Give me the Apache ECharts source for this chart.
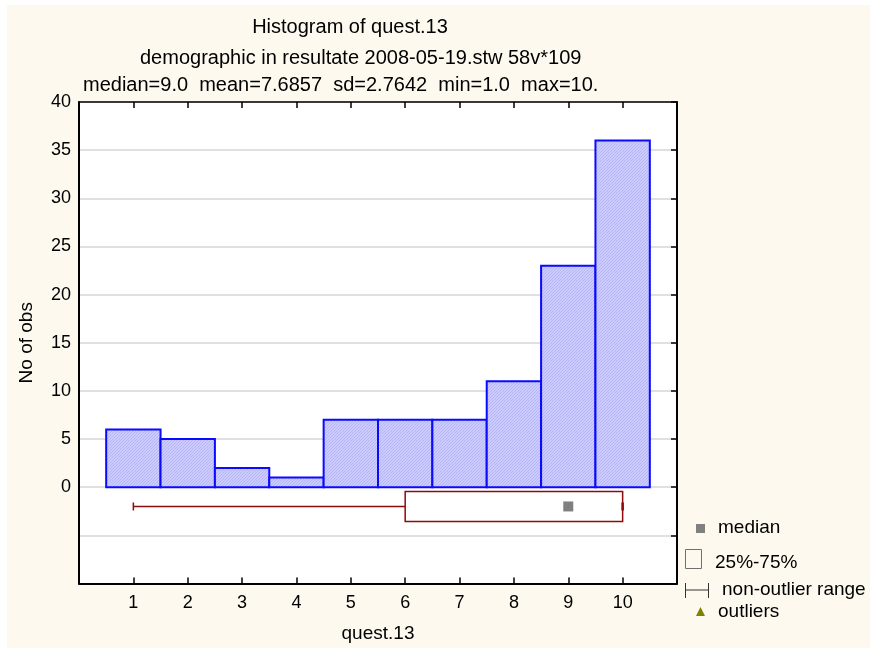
<!DOCTYPE html>
<html>
<head>
<meta charset="utf-8">
<script src="https://cdn.jsdelivr.net/npm/echarts@6/dist/echarts.min.js"></script>
<style>
  html, body { margin: 0; padding: 0; background: #ffffff; }
  #chart { width: 870px; height: 648px; }
</style>
</head>
<body>
<div id="chart"></div>
<script>
// Histogram values
const categories = [1, 2, 3, 4, 5, 6, 7, 8, 9, 10];
const counts = [6, 5, 2, 1, 7, 7, 7, 11, 23, 36];
// Box summary: min, 25%, median, 75%, max
const boxSummary = [1, 6, 9, 10, 10];
// Tick labels on the count axis
const yTickLabels = [0, 5, 10, 15, 20, 25, 30, 35, 40];

const titleLines = [
  'Histogram of quest.13',
  'demographic in resultate 2008-05-19.stw 58v*1090c',
  'median=9.0  mean=7.6857  sd=2.7642  min=1.0  max=10.0'
];

const FONT = '"Liberation Sans", Arial, sans-serif';
const BOX_ROW = -2;        // vertical position of the box plot row (axis units)
const BOX_HALF = 15;       // half height of the box, px

// Fine diagonal hatching for the bars
function hatchPattern() {
  const c = document.createElement('canvas');
  c.width = 3; c.height = 3;
  const g = c.getContext('2d');
  g.fillStyle = '#cbcbff';
  g.fillRect(0, 0, 3, 3);
  g.fillStyle = '#b6b6f3';
  for (let i = 0; i < 3; i++) g.fillRect(i, 2 - i, 1, 1);
  return { image: c, repeat: 'repeat' };
}
const hatch = hatchPattern();

const chart = echarts.init(document.getElementById('chart'), null, { renderer: 'canvas' });

const barData = categories.map((c, i) => [c, counts[i]]);

const option = {
  backgroundColor: '#fdf9ef',
  animation: false,
  textStyle: { fontFamily: FONT },
  grid: {
    left: 79, top: 102, right: 193, bottom: 64,
    show: true, backgroundColor: '#ffffff', borderWidth: 0
  },
  xAxis: [
    {
      type: 'value', position: 'bottom', min: 0, max: 11, interval: 1,
      axisLine: { show: true, onZero: false, lineStyle: { color: '#000', width: 2 } },
      axisTick: { show: true, inside: true, length: 6, lineStyle: { color: '#000', width: 1.5 } },
      axisLabel: {
        color: '#000', fontSize: 18, fontFamily: FONT, margin: 11,
        formatter: v => (categories.indexOf(v) >= 0 ? String(v) : '')
      },
      splitLine: { show: false },
      name: 'quest.13', nameLocation: 'middle', nameGap: 50,
      nameTextStyle: { color: '#000', fontSize: 19, fontFamily: FONT, align: 'center', verticalAlign: 'middle' }
    },
    {
      type: 'value', position: 'top', min: 0, max: 11, interval: 1,
      axisLine: { show: true, onZero: false, lineStyle: { color: '#000', width: 1.5 } },
      axisTick: { show: true, inside: true, length: 6, lineStyle: { color: '#000', width: 1.5 } },
      axisLabel: { show: false },
      splitLine: { show: false }
    }
  ],
  yAxis: [
    {
      type: 'value', position: 'left', min: -10, max: 40, interval: 5,
      axisLine: { show: true, onZero: false, lineStyle: { color: '#000', width: 2 } },
      axisTick: { show: false },
      axisLabel: {
        color: '#000', fontSize: 18, fontFamily: FONT, margin: 8,
        formatter: v => (yTickLabels.indexOf(v) >= 0 ? String(v) : '')
      },
      splitLine: { show: true, lineStyle: { color: '#d6d6d6', width: 1.5 } },
      name: 'No of obs', nameLocation: 'middle', nameGap: 52, nameRotate: 90,
      nameTextStyle: { color: '#000', fontSize: 19, fontFamily: FONT, align: 'center', verticalAlign: 'middle' }
    },
    {
      type: 'value', position: 'right', min: -10, max: 40, interval: 5,
      axisLine: { show: true, onZero: false, lineStyle: { color: '#000', width: 2 } },
      axisTick: { show: true, inside: true, length: 6, lineStyle: { color: '#000', width: 1.5 } },
      axisLabel: { show: false },
      splitLine: { show: false }
    }
  ],
  series: [
    {
      name: 'counts',
      type: 'custom',
      xAxisIndex: 0, yAxisIndex: 0,
      data: barData,
      renderItem: function (params, api) {
        const x = api.value(0), v = api.value(1);
        const p0 = api.coord([x - 0.5, v]);
        const p1 = api.coord([x + 0.5, 0]);
        return {
          type: 'rect',
          shape: { x: p0[0], y: p0[1], width: p1[0] - p0[0], height: p1[1] - p0[1] },
          style: { fill: hatch, stroke: '#0a0aff', lineWidth: 2 }
        };
      },
      z: 3
    },
    {
      name: 'box',
      type: 'custom',
      xAxisIndex: 0, yAxisIndex: 0,
      data: [boxSummary],
      renderItem: function (params, api) {
        const mn = api.value(0), q1 = api.value(1), md = api.value(2),
              q3 = api.value(3), mx = api.value(4);
        const pMin = api.coord([mn, BOX_ROW]);
        const pQ1 = api.coord([q1, BOX_ROW]);
        const pMd = api.coord([md, BOX_ROW]);
        const pQ3 = api.coord([q3, BOX_ROW]);
        const pMax = api.coord([mx, BOX_ROW]);
        const cy = pMin[1];
        const red = '#8f0a0a';
        return {
          type: 'group',
          children: [
            { type: 'line', shape: { x1: pMin[0], y1: cy, x2: pQ1[0], y2: cy },
              style: { stroke: red, lineWidth: 1.5 } },
            { type: 'line', shape: { x1: pMin[0], y1: cy - 4, x2: pMin[0], y2: cy + 4 },
              style: { stroke: red, lineWidth: 1.5 } },
            { type: 'line', shape: { x1: pQ3[0], y1: cy, x2: pMax[0], y2: cy },
              style: { stroke: red, lineWidth: 1.5 } },
            { type: 'rect', shape: { x: pQ1[0], y: cy - BOX_HALF, width: pQ3[0] - pQ1[0], height: 2 * BOX_HALF },
              style: { fill: '#ffffff', stroke: red, lineWidth: 1.5 } },
            { type: 'line', shape: { x1: pMax[0], y1: cy - 4, x2: pMax[0], y2: cy + 4 },
              style: { stroke: red, lineWidth: 2.5 } },
            { type: 'rect', shape: { x: pMd[0] - 5, y: cy - 5, width: 10, height: 10 },
              style: { fill: '#808080' } }
          ]
        };
      },
      z: 4
    }
  ],
  graphic: [
    // white margin strips around the panel
    { type: 'rect', left: 0, top: 0, shape: { width: 870, height: 5 }, style: { fill: '#ffffff' }, silent: true },
    { type: 'rect', left: 0, top: 0, shape: { width: 7, height: 648 }, style: { fill: '#ffffff' }, silent: true },
    // title lines
    { type: 'text', x: 350, y: 27,
      style: { text: titleLines[0], fill: '#000', font: '20px ' + FONT, align: 'center', verticalAlign: 'middle' } },
    { type: 'text', x: 140, y: 58,
      style: { text: titleLines[1], fill: '#000', font: '20px ' + FONT, align: 'left', verticalAlign: 'middle',
               width: 446, overflow: 'truncate', ellipsis: '' } },
    { type: 'text', x: 83, y: 85,
      style: { text: titleLines[2], fill: '#000', font: '20px ' + FONT, align: 'left', verticalAlign: 'middle',
               width: 519, overflow: 'truncate', ellipsis: '' } },
    // box plot key
    { type: 'rect', shape: { x: 696, y: 524, width: 9, height: 9 }, style: { fill: '#808080' } },
    { type: 'text', x: 718, y: 528,
      style: { text: 'median', fill: '#000', font: '19px ' + FONT, verticalAlign: 'middle' } },
    { type: 'rect', shape: { x: 685.5, y: 549.5, width: 16, height: 19 },
      style: { fill: 'none', stroke: '#707070', lineWidth: 1 } },
    { type: 'text', x: 715, y: 563,
      style: { text: '25%-75%', fill: '#000', font: '19px ' + FONT, verticalAlign: 'middle' } },
    { type: 'line', shape: { x1: 685, y1: 590, x2: 709, y2: 590 }, style: { stroke: '#333', lineWidth: 1 } },
    { type: 'line', shape: { x1: 685.5, y1: 583, x2: 685.5, y2: 598 }, style: { stroke: '#333', lineWidth: 1 } },
    { type: 'line', shape: { x1: 708.5, y1: 583, x2: 708.5, y2: 598 }, style: { stroke: '#333', lineWidth: 1 } },
    { type: 'text', x: 722, y: 590,
      style: { text: 'non-outlier range', fill: '#000', font: '19px ' + FONT, verticalAlign: 'middle' } },
    { type: 'polygon', shape: { points: [[696, 616], [705, 616], [700.5, 607]] }, style: { fill: '#808000' } },
    { type: 'text', x: 718, y: 612,
      style: { text: 'outliers', fill: '#000', font: '19px ' + FONT, verticalAlign: 'middle' } }
  ]
};

chart.setOption(option);
</script>
</body>
</html>
